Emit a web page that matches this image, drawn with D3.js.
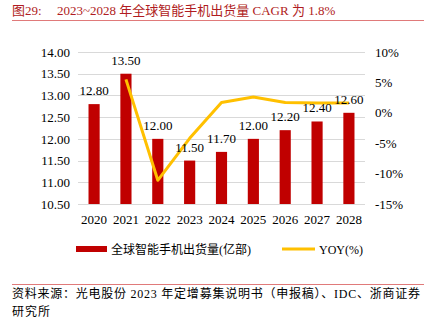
<!DOCTYPE html>
<html>
<head>
<meta charset="utf-8">
<script src="https://cdn.jsdelivr.net/npm/d3@7"></script>
<style>
  body { margin: 0; background: #fff; }
  svg text { font-family: "Liberation Serif", "Noto Sans CJK SC", serif; }
</style>
</head>
<body>
<svg id="chart" width="424" height="323"></svg>
<script>
// data
var years = ["2020", "2021", "2022", "2023", "2024", "2025", "2026", "2027", "2028"];
var shipments = [12.8, 13.5, 12.0, 11.5, 11.7, 12.0, 12.2, 12.4, 12.6];
var yoy = [null, 5.5, -11.1, -4.2, 1.7, 2.6, 1.7, 1.6, 1.6];
var leftTicks = [10.5, 11, 11.5, 12, 12.5, 13, 13.5, 14];
var rightTicks = [-15, -10, -5, 0, 5, 10];

var svg = d3.select("#chart");
var RED = "#c00000", YELLOW = "#ffc000";

var x = d3.scaleBand().domain(years).range([78, 365]).paddingInner(0.65).paddingOuter(0.33);
var yL = d3.scaleLinear().domain([10.5, 14]).range([204, 52]);
var yR = d3.scaleLinear().domain([-15, 10]).range([204, 52]);

// title
svg.append("text")
  .attr("x", 12).attr("y", 15)
  .attr("fill", "#b01c22").attr("font-size", 13)
  .text("图29:");
svg.append("text")
  .attr("x", 57).attr("y", 15)
  .attr("fill", "#b01c22").attr("font-size", 13)
  .text("2023~2028 年全球智能手机出货量 CAGR 为 1.8%");
svg.append("line")
  .attr("x1", 12).attr("x2", 424).attr("y1", 20.5).attr("y2", 20.5)
  .attr("stroke", "#e07a7a").attr("stroke-width", 1.2);

// grid
svg.append("g").selectAll("line").data(leftTicks).enter()
  .append("line")
  .attr("x1", 78).attr("x2", 365)
  .attr("y1", function(d) { return Math.round(yL(d)) + 0.5; })
  .attr("y2", function(d) { return Math.round(yL(d)) + 0.5; })
  .attr("stroke", "#d9d9d9").attr("stroke-width", 1);

// axes
var axL = svg.append("g").attr("transform", "translate(78,0)")
  .call(d3.axisLeft(yL).tickValues(leftTicks).tickFormat(d3.format(".2f")).tickSize(0).tickPadding(8));
var axR = svg.append("g").attr("transform", "translate(365,0)")
  .call(d3.axisRight(yR).tickValues(rightTicks).tickFormat(function(d) { return d + "%"; }).tickSize(0).tickPadding(10));
var axB = svg.append("g").attr("transform", "translate(0,204)")
  .call(d3.axisBottom(x).tickSize(0).tickPadding(11));
[axL, axR, axB].forEach(function(a) {
  a.select(".domain").remove();
  a.selectAll("text").attr("font-size", 13).attr("fill", "#000")
    .attr("font-family", "Liberation Serif, serif");
});

// bars
svg.append("g").selectAll("rect").data(shipments).enter()
  .append("rect")
  .attr("x", function(d, i) { return x(years[i]); })
  .attr("width", x.bandwidth())
  .attr("y", function(d) { return yL(d); })
  .attr("height", function(d) { return 204 - yL(d); })
  .attr("fill", RED);

// line
var line = d3.line()
  .defined(function(d) { return d !== null; })
  .x(function(d, i) { return x(years[i]) + x.bandwidth() / 2; })
  .y(function(d) { return yR(d); });
svg.append("path").datum(yoy)
  .attr("d", line)
  .attr("fill", "none").attr("stroke", YELLOW)
  .attr("stroke-width", 3).attr("stroke-linejoin", "round");

// data labels
svg.append("g").selectAll("text").data(shipments).enter()
  .append("text")
  .attr("x", function(d, i) { return x(years[i]) + x.bandwidth() / 2; })
  .attr("y", function(d) { return yL(d) - 9; })
  .attr("text-anchor", "middle").attr("font-size", 13).attr("fill", "#000")
  .text(function(d) { return d.toFixed(2); });

// legend
svg.append("rect").attr("x", 76).attr("y", 246).attr("width", 31).attr("height", 6).attr("fill", RED);
svg.append("text").attr("x", 111).attr("y", 254).attr("font-size", 12).attr("fill", "#000")
  .text("全球智能手机出货量(亿部)");
svg.append("line").attr("x1", 282).attr("x2", 315).attr("y1", 249).attr("y2", 249)
  .attr("stroke", YELLOW).attr("stroke-width", 3);
svg.append("text").attr("x", 319).attr("y", 254).attr("font-size", 12).attr("fill", "#000")
  .text("YOY(%)");

// source
svg.append("line")
  .attr("x1", 12).attr("x2", 424).attr("y1", 284.5).attr("y2", 284.5)
  .attr("stroke", "#e07a7a").attr("stroke-width", 1.2);
svg.append("text").attr("x", 12).attr("y", 298).attr("font-size", 12).attr("fill", "#000")
  .attr("textLength", 408).attr("lengthAdjust", "spacing")
  .text("资料来源：光电股份 2023 年定增募集说明书（申报稿）、IDC、浙商证券");
svg.append("text").attr("x", 12).attr("y", 316).attr("font-size", 12).attr("fill", "#000")
  .attr("letter-spacing", 1)
  .text("研究所");
</script>
</body>
</html>
